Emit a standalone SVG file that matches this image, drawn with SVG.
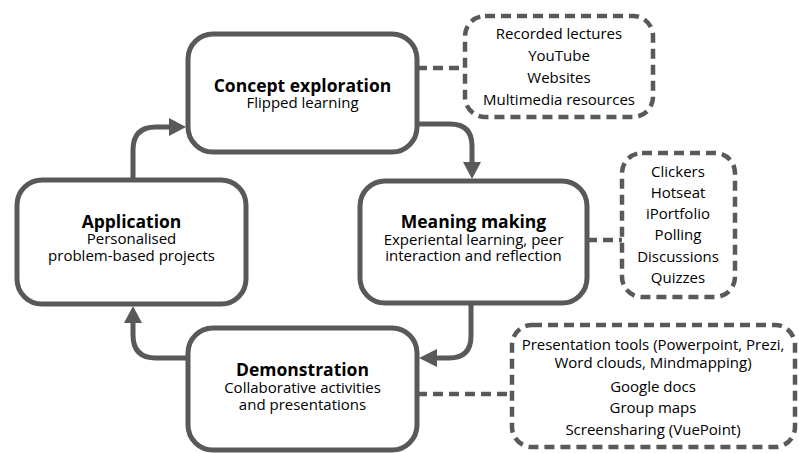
<svg xmlns="http://www.w3.org/2000/svg" width="799" height="453" viewBox="0 0 799 453">
<style>
.node{fill:#fff;stroke:#595959;stroke-width:5}
.tool{fill:#fff;stroke:#595959;stroke-width:4.5;stroke-dasharray:10 6}
.conn{fill:none;stroke:#595959;stroke-width:5}
.dconn{fill:none;stroke:#595959;stroke-width:4.5;stroke-dasharray:10 6}
.head{fill:#595959}
text{font-family:"Open Sans","Liberation Sans",sans-serif;fill:#000;text-anchor:middle;font-size:15px}
.t{font-weight:bold;font-size:17.5px}
</style>
<rect width="799" height="453" fill="#fff"/>
<g id="connectors">
<path class="conn" d="M133,180 V150 Q133,127 156,127 H171"/>
<polygon class="head" points="169,118 169,136 186,127"/>
<path class="conn" d="M417,124 H450 Q472,124 472,146 V163"/>
<polygon class="head" points="463,162 481,162 472,179"/>
<path class="conn" d="M471,303 V336 Q471,358 449,358 H435"/>
<polygon class="head" points="437,349 437,367 419,358"/>
<path class="conn" d="M188,358 H156 Q133,358 133,335 V322"/>
<polygon class="head" points="124,323 142,323 133,306"/>
<path class="dconn" d="M417,68 H465"/>
<path class="dconn" d="M587,240 H622"/>
<path class="dconn" d="M417,394 H512"/>
</g>
<g id="concept">
<rect class="node" x="188" y="34" width="229" height="118" rx="25"/>
<text class="t" x="302.5" y="92">Concept exploration</text>
<text x="302.5" y="108">Flipped learning</text>
</g>
<g id="meaning">
<rect class="node" x="360" y="181" width="227" height="122" rx="25"/>
<text class="t" x="473.5" y="228">Meaning making</text>
<text x="473.5" y="245">Experiental learning, peer</text>
<text x="473.5" y="261">interaction and reflection</text>
</g>
<g id="application">
<rect class="node" x="17" y="180" width="229" height="124" rx="25"/>
<text class="t" x="131.5" y="228">Application</text>
<text x="131.5" y="244">Personalised</text>
<text x="131.5" y="261">problem-based projects</text>
</g>
<g id="demonstration">
<rect class="node" x="188" y="328" width="229" height="122" rx="25"/>
<text class="t" x="302.5" y="376">Demonstration</text>
<text x="302.5" y="393">Collaborative activities</text>
<text x="302.5" y="410">and presentations</text>
</g>
<g id="tools1">
<rect class="tool" x="465" y="16" width="188" height="101" rx="20"/>
<text x="559" y="39">Recorded lectures</text>
<text x="559" y="61">YouTube</text>
<text x="559" y="83">Websites</text>
<text x="559" y="105">Multimedia resources</text>
</g>
<g id="tools2">
<rect class="tool" x="622" y="153" width="113" height="144" rx="20"/>
<text x="678" y="177">Clickers</text>
<text x="678" y="198">Hotseat</text>
<text x="678" y="219">iPortfolio</text>
<text x="678" y="240">Polling</text>
<text x="678" y="262">Discussions</text>
<text x="678" y="283">Quizzes</text>
</g>
<g id="tools3">
<rect class="tool" x="512" y="325" width="283" height="122" rx="20"/>
<text x="653" y="350">Presentation tools (Powerpoint, Prezi,</text>
<text x="653" y="368">Word clouds, Mindmapping)</text>
<text x="653" y="392">Google docs</text>
<text x="653" y="413">Group maps</text>
<text x="653" y="435">Screensharing (VuePoint)</text>
</g>
</svg>
